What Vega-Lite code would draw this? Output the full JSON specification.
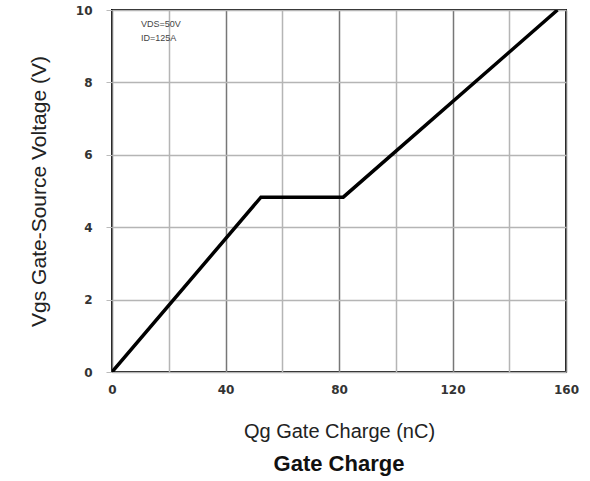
{
  "$schema": "https://vega.github.io/schema/vega-lite/v6.json",
  "width": 454,
  "height": 362,
  "autosize": {"type": "none"},
  "padding": {"left": 112, "top": 10, "right": 24, "bottom": 109},
  "background": "white",
  "title": {
    "text": "Gate Charge",
    "orient": "bottom",
    "anchor": "middle",
    "font": "Liberation Sans",
    "fontSize": 22,
    "fontWeight": "bold",
    "color": "#111",
    "offset": 13
  },
  "config": {
    "view": {"stroke": "#111", "strokeWidth": 2},
    "font": "Liberation Sans"
  },
  "datasets": {
    "curve": [
      {"qg": 0, "vgs": 0},
      {"qg": 52.5, "vgs": 4.83},
      {"qg": 81.5, "vgs": 4.83},
      {"qg": 157, "vgs": 10}
    ],
    "notes": [
      {"qg": 10.2, "vgs": 9.6, "label": "VDS=50V"},
      {"qg": 10.2, "vgs": 9.23, "label": "ID=125A"}
    ]
  },
  "layer": [
    {
      "data": {"name": "curve"},
      "mark": {"type": "line", "color": "#000", "strokeWidth": 3.5, "clip": true},
      "encoding": {
        "x": {
          "field": "qg", "type": "quantitative",
          "scale": {"domain": [0, 160], "nice": false},
          "axis": {
            "values": [0, 20, 40, 60, 80, 100, 120, 140, 160],
            "labelExpr": "datum.value % 40 === 0 ? datum.label : ''",
            "title": "Qg Gate Charge (nC)",
            "titleFont": "Liberation Sans",
            "titleFontSize": 20,
            "titleFontWeight": "normal",
            "titleColor": "#222",
            "titlePadding": 26,
            "labelFont": "DejaVu Sans",
            "labelFontSize": 12,
            "labelFontWeight": "bold",
            "labelColor": "#333",
            "labelPadding": 12,
            "labelFlush": false,
            "domain": false,
            "ticks": false,
            "grid": true,
            "gridColor": {"condition": {"test": "datum.value % 40 === 0", "value": "#777"}, "value": "#b5b5b5"},
            "gridWidth": 1.5
          }
        },
        "y": {
          "field": "vgs", "type": "quantitative",
          "scale": {"domain": [0, 10], "nice": false},
          "axis": {
            "values": [0, 1, 2, 3, 4, 5, 6, 7, 8, 9, 10],
            "labelExpr": "datum.value % 2 === 0 ? datum.label : ''",
            "title": "Vgs Gate-Source Voltage (V)",
            "titleFont": "Liberation Sans",
            "titleFontSize": 21,
            "titleFontWeight": "normal",
            "titleColor": "#222",
            "titlePadding": 26,
            "labelFont": "DejaVu Sans",
            "labelFontSize": 12,
            "labelFontWeight": "bold",
            "labelColor": "#333",
            "labelPadding": 14,
            "labelFlush": false,
            "domain": false,
            "ticks": true,
            "tickColor": "#bbb",
            "tickSize": 6,
            "grid": true,
            "gridColor": "#b5b5b5",
            "gridWidth": 1.5
          }
        }
      }
    },
    {
      "data": {"name": "notes"},
      "mark": {"type": "text", "align": "left", "baseline": "middle", "fontSize": 9, "color": "#444", "font": "Liberation Sans"},
      "encoding": {
        "x": {"field": "qg", "type": "quantitative"},
        "y": {"field": "vgs", "type": "quantitative"},
        "text": {"field": "label"}
      }
    }
  ]
}
